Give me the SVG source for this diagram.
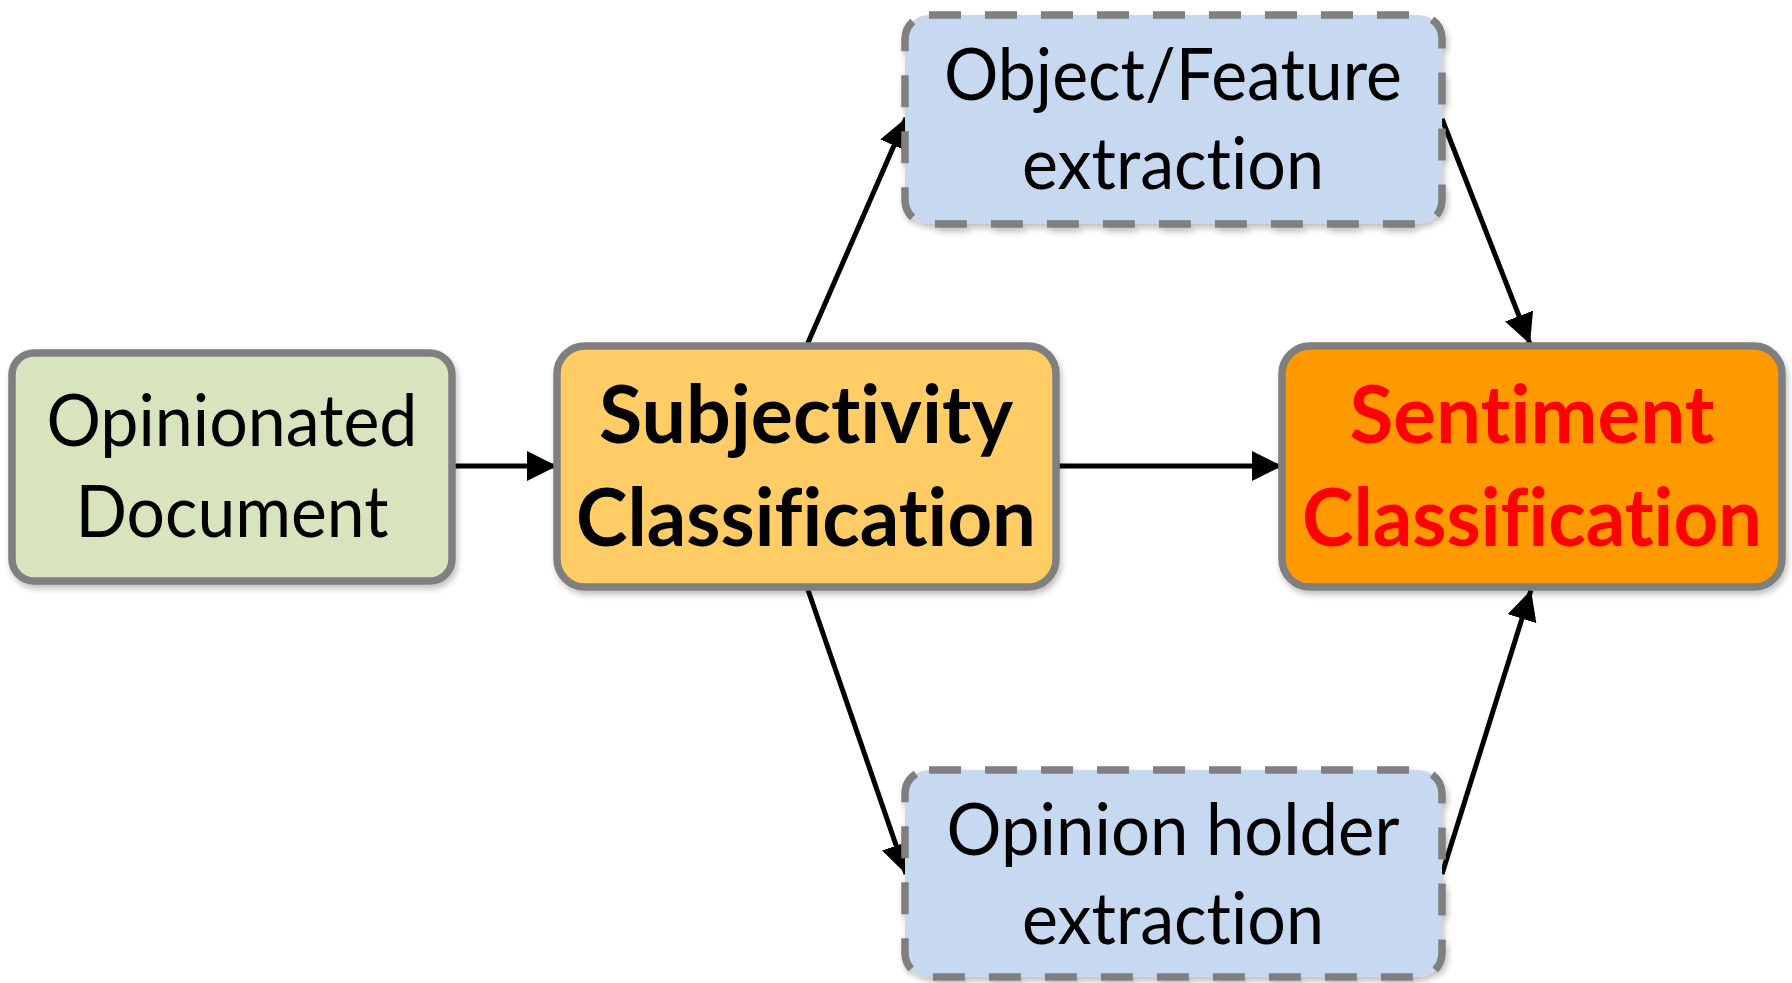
<svg xmlns="http://www.w3.org/2000/svg" width="1792" height="983" viewBox="0 0 1792 983">
<style>
.box{stroke:#7F7F7F;stroke-width:7.5;filter:url(#sh)}
.dash{stroke-dasharray:32 24}
.t{font-family:Lato,"Liberation Sans",sans-serif;font-size:71px;text-anchor:middle;fill:#000;font-variant-ligatures:none}
.b{font-family:Lato,"Liberation Sans",sans-serif;font-size:80px;font-weight:bold;text-anchor:middle;font-variant-ligatures:none}
.c{stroke:#000;stroke-width:5;fill:none;marker-end:url(#ah)}
</style>
<defs>
<marker id="ah" markerUnits="userSpaceOnUse" markerWidth="32" markerHeight="30" refX="30" refY="15" orient="auto">
<path d="M0,0 L30,15 L0,30 Z" fill="#000"/>
</marker>
<filter id="sh" x="-5%" y="-5%" width="115%" height="120%">
<feGaussianBlur in="SourceAlpha" stdDeviation="3"/>
<feOffset dx="2" dy="4" result="o"/>
<feComponentTransfer><feFuncA type="linear" slope="0.25"/></feComponentTransfer>
<feMerge><feMergeNode/><feMergeNode in="SourceGraphic"/></feMerge>
</filter>
</defs>
<rect width="1792" height="983" fill="#fff"/>
<g id="connectors">
<line class="c" x1="453" y1="466" x2="557" y2="466"/>
<line class="c" x1="1056" y1="466" x2="1282" y2="466"/>
<line class="c" x1="807" y1="345" x2="906" y2="118"/>
<line class="c" x1="1442" y1="119" x2="1530" y2="344"/>
<line class="c" x1="807" y1="587" x2="906" y2="874"/>
<line class="c" x1="1442" y1="874" x2="1531" y2="590"/>
</g>
<g id="n-opinionated">
<rect class="box" x="12" y="353" width="440" height="228" rx="22" fill="#D7E4BD"/>
<text class="t" x="232" y="446" textLength="371" lengthAdjust="spacingAndGlyphs">Opinionated</text>
<text class="t" x="232" y="537" textLength="313" lengthAdjust="spacingAndGlyphs">Document</text>
</g>
<g id="n-subjectivity">
<rect class="box" x="557" y="346" width="499" height="241" rx="28" fill="#FFCC66"/>
<text class="b" x="806" y="443" fill="#000" textLength="414" lengthAdjust="spacingAndGlyphs">Subjectivity</text>
<text class="b" x="806" y="546" fill="#000" textLength="460" lengthAdjust="spacingAndGlyphs">Classification</text>
</g>
<g id="n-sentiment">
<rect class="box" x="1282" y="346" width="500" height="241" rx="28" fill="#FF9900"/>
<text class="b" x="1532" y="443" fill="#FF0000" textLength="365" lengthAdjust="spacingAndGlyphs">Sentiment</text>
<text class="b" x="1532" y="546" fill="#FF0000" textLength="460" lengthAdjust="spacingAndGlyphs">Classification</text>
</g>
<g id="n-feature">
<rect class="box dash" x="905" y="15" width="537" height="209" rx="24" fill="#C6D9F1"/>
<text class="t" x="1173" y="100" textLength="458" lengthAdjust="spacingAndGlyphs">Object/Feature</text>
<text class="t" x="1173" y="189" textLength="302" lengthAdjust="spacingAndGlyphs">extraction</text>
</g>
<g id="n-holder">
<rect class="box dash" x="905" y="770" width="537" height="207" rx="24" fill="#C6D9F1"/>
<text class="t" x="1173" y="855" textLength="453" lengthAdjust="spacingAndGlyphs">Opinion holder</text>
<text class="t" x="1173" y="944" textLength="302" lengthAdjust="spacingAndGlyphs">extraction</text>
</g>
</svg>
